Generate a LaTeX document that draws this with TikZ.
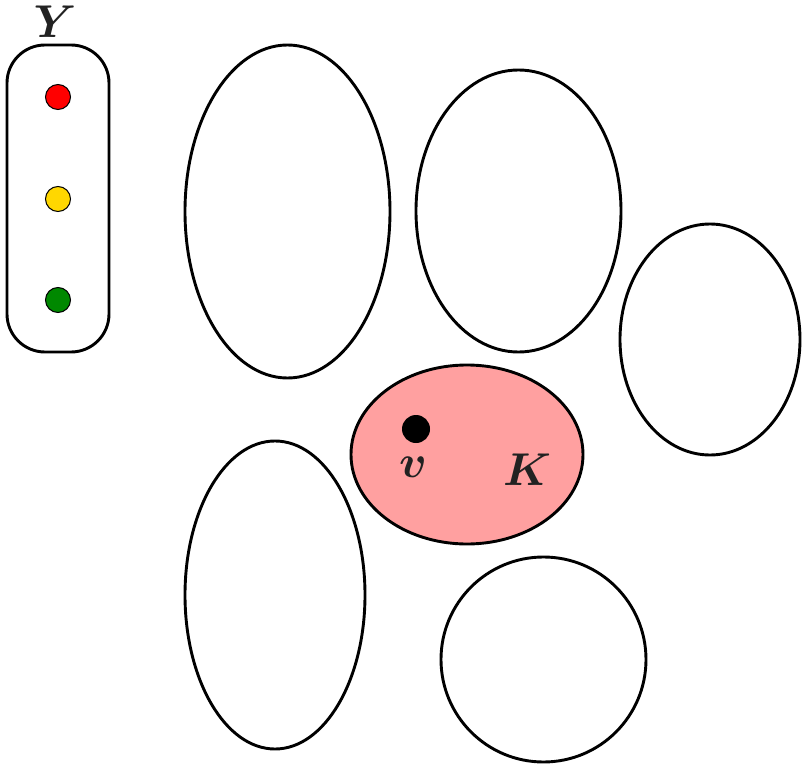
\documentclass[tikz,border=0pt]{standalone}
\usepackage{amsmath}
\usepackage{bm}
\usepackage{graphicx}
\definecolor{txt}{HTML}{222222}
\definecolor{pink}{HTML}{FFA0A0}
\definecolor{dred}{HTML}{FF0000}
\definecolor{dyel}{HTML}{FFD700}
\definecolor{dgrn}{HTML}{008800}
\newcommand{\biglab}[1]{\scalebox{4.6}{$\bm{#1}$}}
\begin{document}
\begin{tikzpicture}[x=1pt,y=-1pt,
  blob/.style={draw=black,line width=2.9pt,fill=white},
  dot/.style={circle,draw=black,line width=1pt,minimum size=25pt,inner sep=0pt},
  lab/.style={text=txt,inner sep=0pt}]
\useasboundingbox (0,0) rectangle (806,765);
% Y box
\draw[blob,rounded corners=38pt] (7,45) rectangle (109,352);
\node[dot,fill=dred] (r) at (58,97) {};
\node[dot,fill=dyel] (yl) at (58,199) {};
\node[dot,fill=dgrn] (g) at (58,300) {};
\node[lab] (Y) at (55,22) {\biglab{Y}};
% ellipses
\draw[blob] (287.5,211.5) ellipse [x radius=102.5, y radius=166.5];
\draw[blob] (518.5,211) ellipse [x radius=102.5, y radius=141];
\draw[blob] (710,339.5) ellipse [x radius=90, y radius=115.5];
\draw[blob] (275,595) ellipse [x radius=90, y radius=154];
\draw[blob] (543.5,659.5) circle [radius=102.5];
% K
\draw[blob,fill=pink] (467,454.5) ellipse [x radius=116, y radius=89.5];
\node[circle,fill=black,minimum size=28pt,inner sep=0pt] (v) at (416,429) {};
\node[lab] (vl) at (413,467) {\biglab{v}};
\node[lab] (K) at (527,470) {\biglab{K}};
\end{tikzpicture}
\end{document}
